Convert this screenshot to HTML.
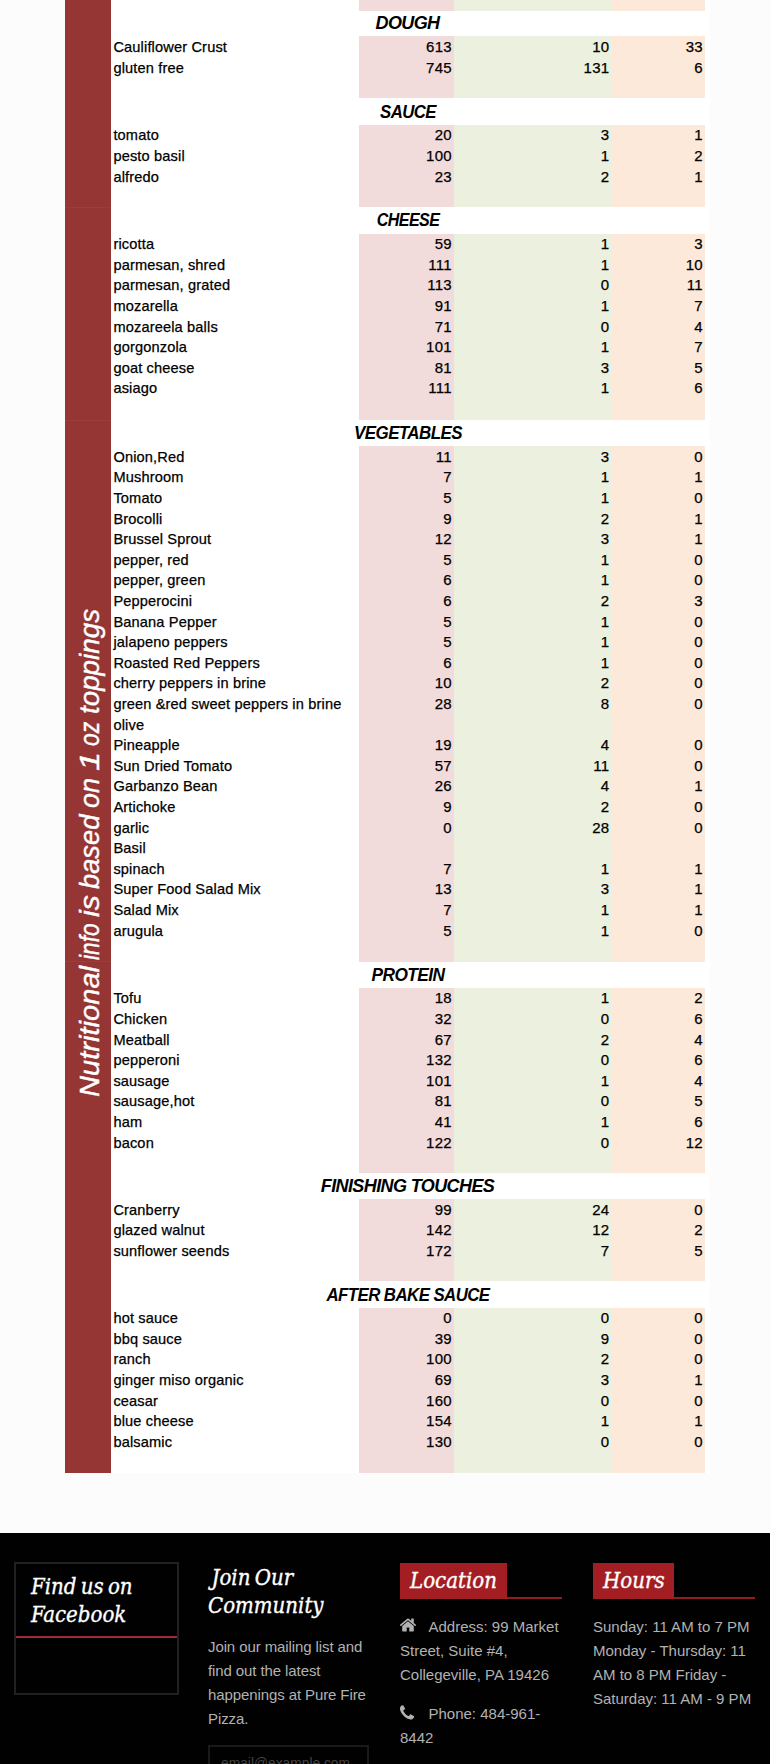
<!DOCTYPE html>
<html lang="en">
<head>
<meta charset="utf-8">
<title>Nutritional Info</title>
<style>
html,body{margin:0;padding:0}
body{width:770px;height:1764px;position:relative;overflow:hidden;background:#fcfcfc;font-family:"Liberation Sans",sans-serif;color:#000}
#tbl{position:absolute;left:65px;top:0;width:645px;height:1472.7px;background:#fff;overflow:hidden}
#bar{position:absolute;left:0;top:0;width:46px;height:100%;background:#963634}
#bar i{position:absolute;left:0;width:46px;height:1px;background:#9d3c3a}
.col{position:absolute;top:0;height:100%}
#c1{left:294px;width:95px;background:#f2dcdb}
#c2{left:389px;width:157.5px;background:#ebf1de}
#c3{left:546.5px;width:93px;background:#fde9d9}
.hd{position:absolute;left:46px;width:599px;background:#fff;}
.hd span{position:absolute;left:196.5px;width:200px;text-align:center;top:50%;transform:translateY(-50%);font-weight:bold;font-style:italic;font-size:18px;letter-spacing:-.6px;white-space:nowrap;line-height:20px}
.r{position:absolute;left:0;width:645px;height:20.6px;line-height:20.6px;font-size:14.6px;white-space:nowrap;margin-top:.5px;-webkit-text-stroke:.25px #000}
.r .l{position:absolute;left:48.4px;top:0;letter-spacing:.15px}
.r .n{position:absolute;top:0;text-align:right;font-size:15px;letter-spacing:.3px;margin-right:-.3px}
.r .a{right:258.3px}
.r .b{right:100.8px}
.r .c{right:7.3px}
#rot{position:absolute;left:0;top:0;width:0;height:0}
#rot div{position:absolute;width:500px;height:30px;white-space:nowrap;color:#fff;font-style:italic;font-size:27px;line-height:30px;transform-origin:0 0;transform:rotate(-90deg);-webkit-text-stroke:.4px #fff}
#rot b{position:absolute;top:0;font-weight:normal;transform-origin:0 0;display:block}

#ft{position:absolute;left:0;top:1533px;width:770px;height:231px;background:#010101;color:#b2b2b2;font-size:15px;line-height:24px;letter-spacing:-.1px}
#ft .w{position:absolute;top:0}
.hs{font-family:"DejaVu Serif Condensed","DejaVu Serif","Liberation Serif",serif;font-style:italic;font-weight:normal;color:#fff;font-size:22px;line-height:28px;letter-spacing:0;word-spacing:-2px;white-space:nowrap;-webkit-text-stroke:.35px #fff}
#fb{position:absolute;left:14px;top:29px;width:161px;height:129px;border:2px solid #212121}
#fb .hs{position:absolute;left:15px;top:9px}
#fb .ln{position:absolute;left:0;top:72px;width:161px;height:2px;background:#9e2b33}
#jn{position:absolute;left:208px;top:31px}
#jn p{margin:0;position:absolute;top:71px;left:0;white-space:nowrap}
#em{position:absolute;left:208px;top:212px;width:161px;height:40px;border:2px solid #1a1a1a;box-sizing:border-box;color:#444;font-size:13.8px;line-height:34px;padding-left:11px;letter-spacing:0}
.tab{position:absolute;top:30px;height:34px;border-bottom:2px solid #931c20;width:162px}
.tab .hs{position:absolute;left:0;top:0;height:36px;background:#a31e22;line-height:36px;padding:0 10px}
.tx{position:absolute;white-space:nowrap;margin:0;letter-spacing:0}
.ic{position:absolute;left:0;top:0}
.tx .sp{display:inline-block;width:28.5px}
</style>
</head>
<body>
<div id="tbl">
<div class="col" id="c1"></div><div class="col" id="c2"></div><div class="col" id="c3"></div>
<div id="bar"><i style="top:207px"></i><i style="top:420px"></i><i style="top:961px"></i></div>
<div id="rot"><div style="left:9.7px;top:1095.7px"><b style="left:-1.1px;transform:scaleX(1.078)">Nutritional</b> <b style="left:135.6px;transform:scaleX(0.840)">info</b> <b style="left:179.1px;transform:scaleX(1.121)">is</b> <b style="left:206.6px;transform:scaleX(1.011)">based</b> <b style="left:288.1px;transform:scaleX(1.000)">on</b> <b style="left:325.2px;transform:scaleX(1.275)">1</b> <b style="left:350.2px;transform:scaleX(0.852)">oz</b> <b style="left:381.6px;transform:scaleX(1.029)">toppings</b></div></div>
<div class="hd" style="top:10.5px;height:25.9px"><span>DOUGH</span></div>
<div class="r" style="top:36.4px"><span class="l">Cauliflower Crust</span><span class="n a">613</span><span class="n b">10</span><span class="n c">33</span></div>
<div class="r" style="top:57.0px"><span class="l">gluten free</span><span class="n a">745</span><span class="n b">131</span><span class="n c">6</span></div>
<div class="hd" style="top:98.3px;height:26.5px"><span style="transform:translateY(-50%) scaleX(0.933)">SAUCE</span></div>
<div class="r" style="top:124.8px"><span class="l">tomato</span><span class="n a">20</span><span class="n b">3</span><span class="n c">1</span></div>
<div class="r" style="top:145.4px"><span class="l">pesto basil</span><span class="n a">100</span><span class="n b">1</span><span class="n c">2</span></div>
<div class="r" style="top:166.0px"><span class="l">alfredo</span><span class="n a">23</span><span class="n b">2</span><span class="n c">1</span></div>
<div class="hd" style="top:207.3px;height:26.3px"><span style="transform:translateY(-50%) scaleX(0.89)">CHEESE</span></div>
<div class="r" style="top:233.6px"><span class="l">ricotta</span><span class="n a">59</span><span class="n b">1</span><span class="n c">3</span></div>
<div class="r" style="top:254.2px"><span class="l">parmesan, shred</span><span class="n a">111</span><span class="n b">1</span><span class="n c">10</span></div>
<div class="r" style="top:274.8px"><span class="l">parmesan, grated</span><span class="n a">113</span><span class="n b">0</span><span class="n c">11</span></div>
<div class="r" style="top:295.4px"><span class="l">mozarella</span><span class="n a">91</span><span class="n b">1</span><span class="n c">7</span></div>
<div class="r" style="top:316.0px"><span class="l">mozareela balls</span><span class="n a">71</span><span class="n b">0</span><span class="n c">4</span></div>
<div class="r" style="top:336.6px"><span class="l">gorgonzola</span><span class="n a">101</span><span class="n b">1</span><span class="n c">7</span></div>
<div class="r" style="top:357.2px"><span class="l">goat cheese</span><span class="n a">81</span><span class="n b">3</span><span class="n c">5</span></div>
<div class="r" style="top:377.8px"><span class="l">asiago</span><span class="n a">111</span><span class="n b">1</span><span class="n c">6</span></div>
<div class="hd" style="top:419.9px;height:26.4px"><span style="transform:translateY(-50%) scaleX(0.94)">VEGETABLES</span></div>
<div class="r" style="top:446.3px"><span class="l">Onion,Red</span><span class="n a">11</span><span class="n b">3</span><span class="n c">0</span></div>
<div class="r" style="top:466.9px"><span class="l">Mushroom</span><span class="n a">7</span><span class="n b">1</span><span class="n c">1</span></div>
<div class="r" style="top:487.5px"><span class="l">Tomato</span><span class="n a">5</span><span class="n b">1</span><span class="n c">0</span></div>
<div class="r" style="top:508.1px"><span class="l">Brocolli</span><span class="n a">9</span><span class="n b">2</span><span class="n c">1</span></div>
<div class="r" style="top:528.7px"><span class="l">Brussel Sprout</span><span class="n a">12</span><span class="n b">3</span><span class="n c">1</span></div>
<div class="r" style="top:549.3px"><span class="l">pepper, red</span><span class="n a">5</span><span class="n b">1</span><span class="n c">0</span></div>
<div class="r" style="top:569.9px"><span class="l">pepper, green</span><span class="n a">6</span><span class="n b">1</span><span class="n c">0</span></div>
<div class="r" style="top:590.5px"><span class="l">Pepperocini</span><span class="n a">6</span><span class="n b">2</span><span class="n c">3</span></div>
<div class="r" style="top:611.1px"><span class="l">Banana Pepper</span><span class="n a">5</span><span class="n b">1</span><span class="n c">0</span></div>
<div class="r" style="top:631.7px"><span class="l">jalapeno peppers</span><span class="n a">5</span><span class="n b">1</span><span class="n c">0</span></div>
<div class="r" style="top:652.3px"><span class="l">Roasted Red Peppers</span><span class="n a">6</span><span class="n b">1</span><span class="n c">0</span></div>
<div class="r" style="top:672.9px"><span class="l">cherry peppers in brine</span><span class="n a">10</span><span class="n b">2</span><span class="n c">0</span></div>
<div class="r" style="top:693.5px"><span class="l">green &amp;red sweet peppers in brine</span><span class="n a">28</span><span class="n b">8</span><span class="n c">0</span></div>
<div class="r" style="top:714.1px"><span class="l">olive</span></div>
<div class="r" style="top:734.7px"><span class="l">Pineapple</span><span class="n a">19</span><span class="n b">4</span><span class="n c">0</span></div>
<div class="r" style="top:755.3px"><span class="l">Sun Dried Tomato</span><span class="n a">57</span><span class="n b">11</span><span class="n c">0</span></div>
<div class="r" style="top:775.9px"><span class="l">Garbanzo Bean</span><span class="n a">26</span><span class="n b">4</span><span class="n c">1</span></div>
<div class="r" style="top:796.5px"><span class="l">Artichoke</span><span class="n a">9</span><span class="n b">2</span><span class="n c">0</span></div>
<div class="r" style="top:817.1px"><span class="l">garlic</span><span class="n a">0</span><span class="n b">28</span><span class="n c">0</span></div>
<div class="r" style="top:837.7px"><span class="l">Basil</span></div>
<div class="r" style="top:858.3px"><span class="l">spinach</span><span class="n a">7</span><span class="n b">1</span><span class="n c">1</span></div>
<div class="r" style="top:878.9px"><span class="l">Super Food Salad Mix</span><span class="n a">13</span><span class="n b">3</span><span class="n c">1</span></div>
<div class="r" style="top:899.5px"><span class="l">Salad Mix</span><span class="n a">7</span><span class="n b">1</span><span class="n c">1</span></div>
<div class="r" style="top:920.1px"><span class="l">arugula</span><span class="n a">5</span><span class="n b">1</span><span class="n c">0</span></div>
<div class="hd" style="top:961.5px;height:26.3px"><span style="transform:translateY(-50%) scaleX(0.96)">PROTEIN</span></div>
<div class="r" style="top:987.8px"><span class="l">Tofu</span><span class="n a">18</span><span class="n b">1</span><span class="n c">2</span></div>
<div class="r" style="top:1008.4px"><span class="l">Chicken</span><span class="n a">32</span><span class="n b">0</span><span class="n c">6</span></div>
<div class="r" style="top:1029.0px"><span class="l">Meatball</span><span class="n a">67</span><span class="n b">2</span><span class="n c">4</span></div>
<div class="r" style="top:1049.6px"><span class="l">pepperoni</span><span class="n a">132</span><span class="n b">0</span><span class="n c">6</span></div>
<div class="r" style="top:1070.2px"><span class="l">sausage</span><span class="n a">101</span><span class="n b">1</span><span class="n c">4</span></div>
<div class="r" style="top:1090.8px"><span class="l">sausage,hot</span><span class="n a">81</span><span class="n b">0</span><span class="n c">5</span></div>
<div class="r" style="top:1111.4px"><span class="l">ham</span><span class="n a">41</span><span class="n b">1</span><span class="n c">6</span></div>
<div class="r" style="top:1132.0px"><span class="l">bacon</span><span class="n a">122</span><span class="n b">0</span><span class="n c">12</span></div>
<div class="hd" style="top:1172.9px;height:26.4px"><span>FINISHING TOUCHES</span></div>
<div class="r" style="top:1199.3px"><span class="l">Cranberry</span><span class="n a">99</span><span class="n b">24</span><span class="n c">0</span></div>
<div class="r" style="top:1219.9px"><span class="l">glazed walnut</span><span class="n a">142</span><span class="n b">12</span><span class="n c">2</span></div>
<div class="r" style="top:1240.5px"><span class="l">sunflower seends</span><span class="n a">172</span><span class="n b">7</span><span class="n c">5</span></div>
<div class="hd" style="top:1281.4px;height:26.3px"><span style="transform:translateY(-50%) scaleX(0.935)">AFTER BAKE SAUCE</span></div>
<div class="r" style="top:1307.7px"><span class="l">hot sauce</span><span class="n a">0</span><span class="n b">0</span><span class="n c">0</span></div>
<div class="r" style="top:1328.3px"><span class="l">bbq sauce</span><span class="n a">39</span><span class="n b">9</span><span class="n c">0</span></div>
<div class="r" style="top:1348.9px"><span class="l">ranch</span><span class="n a">100</span><span class="n b">2</span><span class="n c">0</span></div>
<div class="r" style="top:1369.5px"><span class="l">ginger miso organic</span><span class="n a">69</span><span class="n b">3</span><span class="n c">1</span></div>
<div class="r" style="top:1390.1px"><span class="l">ceasar</span><span class="n a">160</span><span class="n b">0</span><span class="n c">0</span></div>
<div class="r" style="top:1410.7px"><span class="l">blue cheese</span><span class="n a">154</span><span class="n b">1</span><span class="n c">1</span></div>
<div class="r" style="top:1431.3px"><span class="l">balsamic</span><span class="n a">130</span><span class="n b">0</span><span class="n c">0</span></div>
</div>
<div id="ft">
<div id="fb"><div class="hs">Find us on<br>Facebook</div><div class="ln"></div></div>
<div id="jn"><div class="hs"><span style="margin-left:3.5px">Join Our</span><br>Community</div><p>Join our mailing list and<br>find out the latest<br>happenings at Pure Fire<br>Pizza.</p></div>
<div id="em">email@example.com</div>
<div class="tab" style="left:400px"><div class="hs">Location</div></div>
<p class="tx" style="left:400px;top:82px"><svg class="ic" style="left:-1px;top:1.4px" width="18" height="18" viewBox="0 0 1792 1792"><path fill="#b2b2b2" d="M1472 992v480q0 26-19 45t-45 19h-384v-384h-256v384h-384q-26 0-45-19t-19-45v-480q0-1 .5-3t.5-3l575-474 575 474q1 2 1 6zm223-69l-62 74q-8 9-21 11h-3q-13 0-21-7l-692-577-692 577q-12 8-24 7-13-2-21-11l-62-74q-8-10-7-23.500t11-21.500l719-599q32-26 76-26t76 26l244 204v-195q0-14 9-23t23-9h192q14 0 23 9t9 23v408l219 182q10 8 11 21.500t-7 23.500z"/></svg><span class="sp"></span>Address: 99 Market<br>Street, Suite #4,<br>Collegeville, PA 19426</p>
<p class="tx" style="left:400px;top:169px"><svg class="ic" style="left:-2px;top:2px" width="18" height="18" viewBox="0 0 1792 1792"><path fill="#b2b2b2" d="M1600 1240q0 27-10 70.500t-21 68.500q-21 50-122 106-94 51-186 51-27 0-53-3.500t-57.500-12.500-47-14.500-55.500-20.500-49-18q-98-35-175-83-127-79-264-216t-216-264q-48-77-83-175-3-9-18-49t-20.500-55.500-14.500-47-12.500-57.500-3.500-53q0-92 51-186 56-101 106-122 25-11 68.500-21t70.500-10q14 0 21 3 18 6 53 76 11 19 30 54t35 63.500 31 53.500q3 4 17.500 25t21.500 35.500 7 28.500q0 20-28.500 50t-62 55-62 53-28.500 46q0 9 5 22.500t8.500 20.500 14 24 11.500 19q76 137 174 235t235 174q2 1 19 11.500t24 14 20.500 8.500 22.500 5q18 0 46-28.500t53-62 55-62 50-28.500q14 0 28.500 7t35.500 21.500 25 17.500q25 15 53.500 31t63.500 35 54 30q70 35 76 53 3 7 3 21z"/></svg><span class="sp"></span>Phone: 484-961-<br>8442</p>
<div class="tab" style="left:593px"><div class="hs" style="padding-right:9px">Hours</div></div>
<p class="tx" style="left:593px;top:82px">Sunday: 11 AM to 7 PM<br>Monday - Thursday: 11<br>AM to 8 PM Friday -<br>Saturday: 11 AM - 9 PM</p>
</div>
</body>
</html>
